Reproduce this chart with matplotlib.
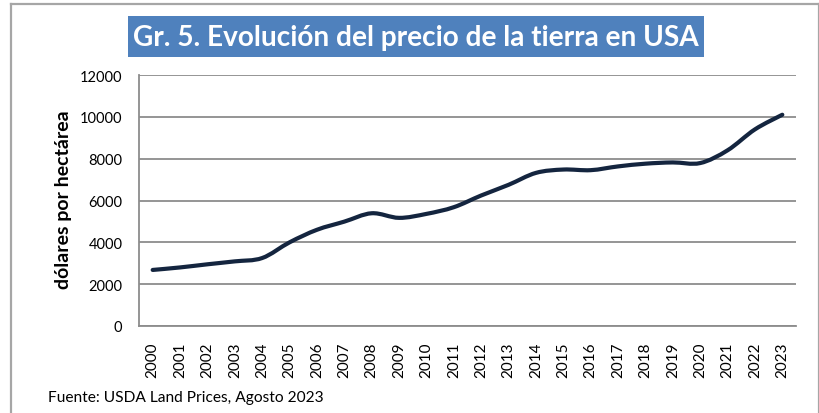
import numpy as np
import matplotlib
matplotlib.use("Agg")
import matplotlib.pyplot as plt
from matplotlib.path import Path
from matplotlib.patches import PathPatch, Rectangle
from matplotlib.lines import Line2D

years = [str(y) for y in range(2000, 2024)]
precio = [2680, 2800, 2950, 3090, 3250, 4000, 4600, 4990, 5390, 5170, 5360, 5680,
          6240, 6750, 7320, 7480, 7450, 7630, 7760, 7820, 7790, 8400, 9400, 10100]

title = "Gr. 5. Evolución del precio de la tierra en USA"
ylabel = "dólares por hectárea"
source = "Fuente: USDA Land Prices, Agosto 2023"

plt.rcParams["font.family"] = ["Lato", "DejaVu Sans"]

W, H = 820, 414
fig = plt.figure(figsize=(W / 100, H / 100), dpi=100)

def fx(px):
    return px / W

def fy(py):
    return 1 - py / H

ax = fig.add_axes([fx(139), fy(327), fx(796) - fx(139), fy(76) - fy(327)])

# smoothed line like Excel (Catmull-Rom -> cubic Bezier in data coords)
x = np.arange(len(precio), dtype=float)
y = np.array(precio, dtype=float)
verts = [(x[0], y[0])]
codes = [Path.MOVETO]
for i in range(len(x) - 1):
    x0, y0 = (x[i - 1], y[i - 1]) if i > 0 else (x[i], y[i])
    x3, y3 = (x[i + 2], y[i + 2]) if i + 2 < len(x) else (x[i + 1], y[i + 1])
    c1 = (x[i] + (x[i + 1] - x0) / 6, y[i] + (y[i + 1] - y0) / 6)
    c2 = (x[i + 1] - (x3 - x[i]) / 6, y[i + 1] - (y3 - y[i]) / 6)
    verts += [c1, c2, (x[i + 1], y[i + 1])]
    codes += [Path.CURVE4] * 3
ax.add_patch(PathPatch(Path(verts, codes), facecolor="none", edgecolor="#14253f",
                       lw=3.0, capstyle="round", joinstyle="round", zorder=3))

ax.set_xlim(-0.5, len(years) - 0.5)
ax.set_ylim(0, 12000)
ax.set_yticks(range(0, 12001, 2000))
ax.set_xticks(x)
ax.set_xticklabels(years, rotation=90, fontsize=11)
ax.tick_params(axis="y", labelsize=10.5, length=0, pad=12)
ax.tick_params(axis="x", length=0, pad=11)
ax.grid(axis="y", color="#8c8c8c", lw=1.3)
ax.set_axisbelow(True)
for s in ["top", "right"]:
    ax.spines[s].set_visible(False)
for s in ["left", "bottom"]:
    ax.spines[s].set_color("#8c8c8c")
    ax.spines[s].set_linewidth(1.3)

fig.text(fx(63.5), fy(200), ylabel, rotation=90, ha="center", va="center",
         fontsize=14, fontweight="bold")

# title box
fig.patches.append(Rectangle((fx(128), fy(58)), fx(704) - fx(128), fy(17) - fy(58),
                             transform=fig.transFigure, facecolor="#4f81bd",
                             edgecolor="none"))
fig.text(fx(416), fy(38), title, ha="center", va="center", color="white",
         fontsize=20.2, fontweight="bold")

fig.text(fx(48), fy(398), source, ha="left", va="center", fontsize=11.2)

# outer frame
for xs, ys in [([11.5, 11.5], [5, 414]), ([11.5, 819], [5, 5]), ([819, 819], [5, 414])]:
    fig.lines.append(Line2D([fx(v) for v in xs], [fy(v) for v in ys],
                            transform=fig.transFigure, color="#a6a6a6", lw=1.6))

fig.savefig("out.png", dpi=100)
